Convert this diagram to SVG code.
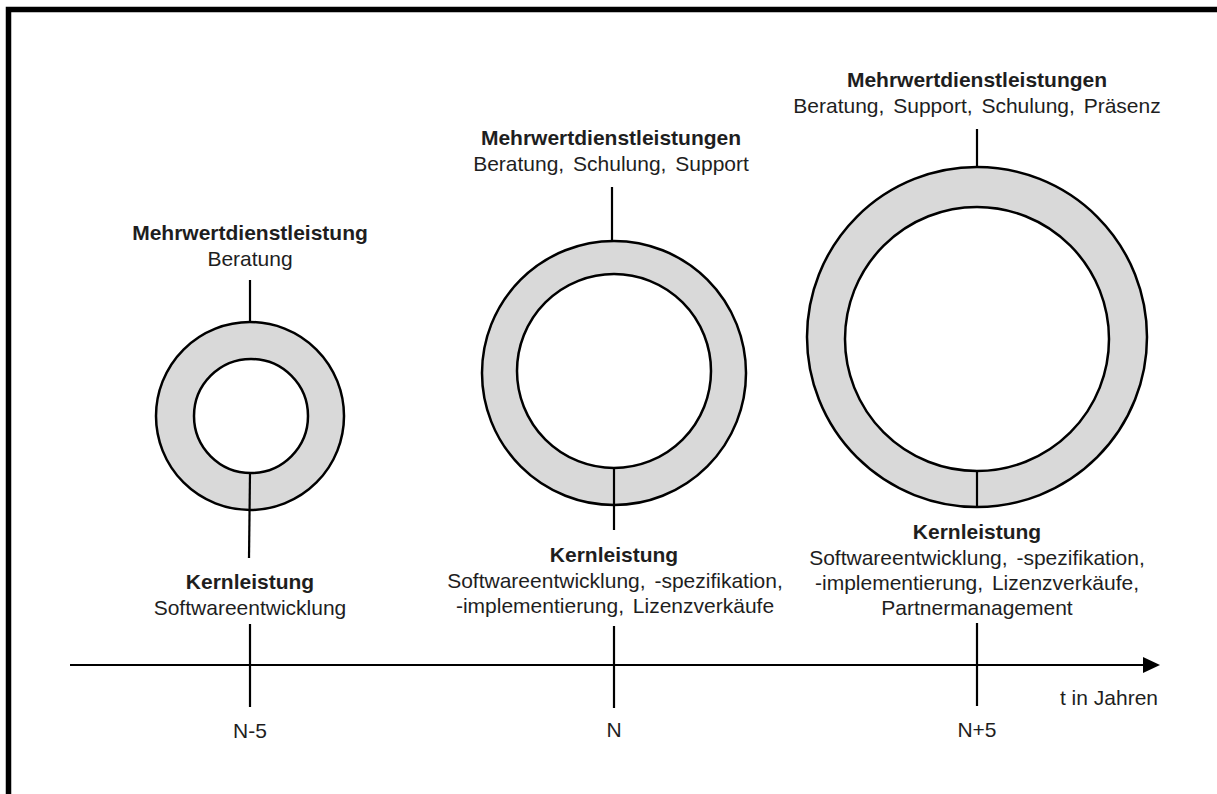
<svg xmlns="http://www.w3.org/2000/svg" width="1217" height="794" viewBox="0 0 1217 794">
<style>
  text { font-family: "Liberation Sans", Arial, sans-serif; font-size: 21px; fill: #1e1e1e; text-anchor: middle; }
  .b { font-weight: bold; }
  .r { word-spacing: 3px; }
  .outer { fill: #d9d9d9; stroke: #000; stroke-width: 2.5; }
  .inner { fill: #fff; stroke: #000; stroke-width: 2.5; }
  .ln { stroke: #000; stroke-width: 2.2; fill: none; }
</style>
<rect x="0" y="0" width="1217" height="794" fill="#fff"/>
<rect x="8.5" y="9.5" width="1400" height="1000" fill="none" stroke="#000" stroke-width="5.5"/>

<g id="connectors">
  <line class="ln" x1="70" y1="665" x2="1146" y2="665"/>
  <polygon points="1143,657 1160,665 1143,673" fill="#000"/>
  <line class="ln" x1="250" y1="624" x2="250" y2="707"/>
  <line class="ln" x1="614" y1="626" x2="614" y2="708"/>
  <line class="ln" x1="977" y1="623" x2="977" y2="706"/>
  <line class="ln" x1="250" y1="280" x2="250" y2="322"/>
  <line class="ln" x1="612" y1="187" x2="612" y2="241"/>
  <line class="ln" x1="977" y1="129" x2="977" y2="167"/>
</g>

<g id="ring-n-5">
  <circle class="outer" cx="250" cy="416" r="94"/>
  <circle class="inner" cx="251" cy="416" r="57"/>
  <line class="ln" x1="250" y1="473" x2="249" y2="558"/>
</g>
<g id="ring-n">
  <circle class="outer" cx="614" cy="373" r="132"/>
  <circle class="inner" cx="614" cy="371" r="97"/>
  <line class="ln" x1="614" y1="468" x2="614" y2="530"/>
</g>
<g id="ring-n+5">
  <circle class="outer" cx="977" cy="337" r="170"/>
  <circle class="inner" cx="977" cy="339" r="132"/>
  <line class="ln" x1="977" y1="471" x2="977" y2="507"/>
</g>

<g id="label-top-n-5">
  <text class="b" x="250" y="240">Mehrwertdienstleistung</text>
  <text class="r" x="250" y="266">Beratung</text>
</g>
<g id="label-bottom-n-5">
  <text class="b" x="250" y="589">Kernleistung</text>
  <text class="r" x="250" y="615">Softwareentwicklung</text>
</g>
<g id="label-top-n">
  <text class="b" x="611" y="145">Mehrwertdienstleistungen</text>
  <text class="r" x="611" y="171">Beratung, Schulung, Support</text>
</g>
<g id="label-bottom-n">
  <text class="b" x="614" y="562">Kernleistung</text>
  <text class="r" x="615" y="588">Softwareentwicklung, -spezifikation,</text>
  <text class="r" x="615" y="613">-implementierung, Lizenzverkäufe</text>
</g>
<g id="label-top-n+5">
  <text class="b" x="977" y="87">Mehrwertdienstleistungen</text>
  <text class="r" x="977" y="113">Beratung, Support, Schulung, Präsenz</text>
</g>
<g id="label-bottom-n+5">
  <text class="b" x="977" y="539">Kernleistung</text>
  <text class="r" x="977" y="565">Softwareentwicklung, -spezifikation,</text>
  <text class="r" x="977" y="590">-implementierung, Lizenzverkäufe,</text>
  <text class="r" x="977" y="615">Partnermanagement</text>
</g>
<g id="axis-labels">
  <text x="250" y="738">N-5</text>
  <text x="614" y="737">N</text>
  <text x="977" y="737">N+5</text>
  <text x="1158" y="705" style="text-anchor:end">t in Jahren</text>
</g>
</svg>
